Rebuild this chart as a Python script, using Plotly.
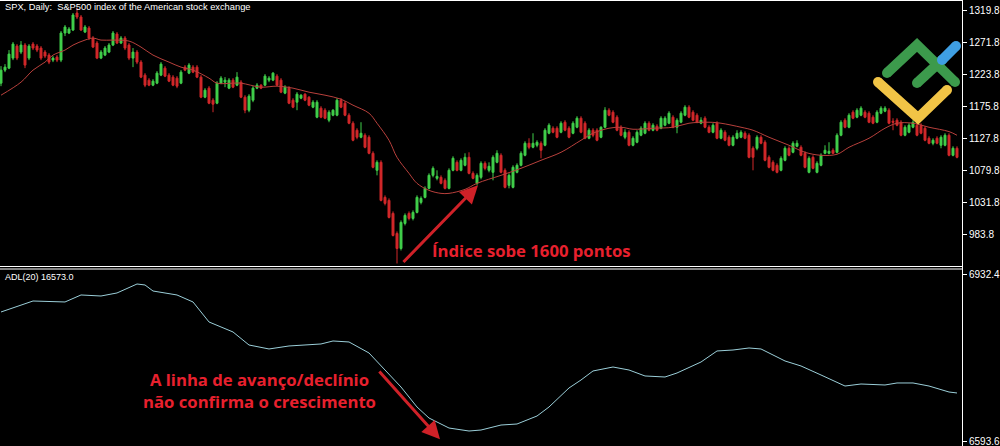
import plotly.graph_objects as go

# ---------------- data ----------------
opens = [
1210.5, 1230, 1233, 1248, 1266, 1257, 1267.5, 1248, 1269, 1266,
1263, 1257, 1252.5, 1245, 1249.5, 1245, 1285.5, 1285.5, 1290, 1315.5,
1309.5, 1287, 1293, 1278, 1270.5, 1248, 1252.5, 1257, 1267.5, 1284,
1270.5, 1278, 1267.5, 1248, 1257, 1242, 1222.5, 1215, 1207.5, 1210.5,
1222.5, 1233, 1222.5, 1219.5, 1218, 1210.5, 1234.5, 1225.5, 1234.5, 1234.5,
1219.5, 1189.5, 1203, 1185, 1180.5, 1210.5, 1212, 1203, 1215, 1207.5,
1212, 1189.5, 1170, 1185, 1203, 1207.5, 1207.5, 1215, 1215, 1221,
1215, 1195.5, 1203, 1185, 1182, 1188, 1194, 1189.5, 1174.5, 1159.5,
1173, 1170, 1155, 1162.5, 1162.5, 1185, 1180.5, 1162.5, 1150.5, 1140,
1129.5, 1132.5, 1129.5, 1105.5, 1080, 1092, 1039.5, 1035, 1015.5, 985.5,
963, 1000.5, 1015.5, 1008, 1017, 1032, 1039.5, 1053, 1072.5, 1068,
1069.5, 1065, 1053, 1080, 1092, 1080, 1087.5, 1099.5, 1075.5, 1060.5,
1069.5, 1090.5, 1080, 1077, 1092, 1102.5, 1080, 1057.5, 1054.5, 1077,
1087.5, 1102.5, 1120.5, 1114.5, 1117.5, 1120.5, 1117.5, 1135.5, 1143, 1143,
1137, 1152, 1143, 1135.5, 1144.5, 1158, 1150.5, 1128, 1140, 1140,
1129.5, 1144.5, 1170, 1167, 1159.5, 1144.5, 1129.5, 1137, 1117.5, 1122,
1132.5, 1135.5, 1150.5, 1140, 1146, 1143, 1147.5, 1150.5, 1159.5, 1144.5,
1152, 1162.5, 1174.5, 1167, 1162.5, 1150.5, 1158, 1144.5, 1137, 1150.5,
1128, 1137, 1129.5, 1117.5, 1128, 1129.5, 1135.5, 1132.5, 1113, 1113,
1129.5, 1122, 1099.5, 1092, 1087.5, 1080, 1095, 1113, 1107, 1116,
1114.5, 1105.5, 1077, 1099.5, 1077, 1087.5, 1105.5, 1105.5, 1110, 1107,
1132.5, 1155, 1144.5, 1167, 1159.5, 1162.5, 1167, 1165.5, 1159.5, 1152,
1165.5, 1168.5, 1170, 1153.5, 1155, 1152, 1132.5, 1137, 1144.5, 1147.5,
1147.5, 1143, 1128, 1120.5, 1128, 1117.5, 1117.5, 1132.5, 1102.5, 1113,
]

closes = [
1230, 1234.5, 1254, 1269, 1248, 1267.5, 1237.5, 1266, 1263, 1260,
1248, 1251, 1242, 1248, 1245, 1285.5, 1294.5, 1291.5, 1312.5, 1309.5,
1290, 1294.5, 1278, 1264.5, 1248, 1257, 1263, 1267.5, 1285.5, 1270.5,
1278, 1263, 1248, 1257, 1242, 1219.5, 1207.5, 1207.5, 1213.5, 1225.5,
1239, 1221, 1213.5, 1207.5, 1206, 1227, 1230, 1237.5, 1227, 1219.5,
1189.5, 1200, 1180.5, 1179, 1210.5, 1218, 1215, 1215, 1204.5, 1219.5,
1189.5, 1170, 1191, 1203, 1207.5, 1203, 1221, 1218, 1225.5, 1207.5,
1197, 1204.5, 1180.5, 1174.5, 1194, 1192.5, 1185, 1177.5, 1182, 1182,
1159.5, 1158, 1167, 1170, 1185, 1174.5, 1162.5, 1150.5, 1125, 1129.5,
1135.5, 1114.5, 1105.5, 1084.5, 1092, 1035, 1030.5, 1009.5, 982.5, 963,
1002, 1012.5, 1008, 1017, 1039.5, 1038, 1053, 1072.5, 1083, 1071,
1060.5, 1053, 1080, 1098, 1080, 1095, 1099.5, 1075.5, 1068, 1072.5,
1090.5, 1083, 1086, 1099.5, 1105.5, 1077, 1054.5, 1072.5, 1084.5, 1087.5,
1105.5, 1120.5, 1114.5, 1120.5, 1122, 1110, 1140, 1147.5, 1137, 1129.5,
1150.5, 1140, 1129.5, 1150.5, 1158, 1137, 1128, 1140, 1132.5, 1125,
1144.5, 1170, 1162.5, 1152, 1140, 1132.5, 1137, 1117.5, 1128, 1137,
1143, 1150.5, 1140, 1147.5, 1140, 1158, 1158, 1165.5, 1144.5, 1155,
1165.5, 1174.5, 1159.5, 1155, 1152, 1155, 1144.5, 1137, 1147.5, 1128,
1140, 1125, 1117.5, 1129.5, 1135.5, 1137, 1128, 1099.5, 1099.5, 1129.5,
1120.5, 1095, 1084.5, 1080, 1077, 1098, 1113, 1102.5, 1120.5, 1120.5,
1102.5, 1084.5, 1098, 1083, 1090.5, 1102.5, 1110, 1108.5, 1105.5, 1132.5,
1152, 1144.5, 1162.5, 1158, 1170, 1173, 1159.5, 1152, 1150.5, 1167,
1173, 1173, 1150.5, 1152, 1147.5, 1132.5, 1144.5, 1147.5, 1152, 1132.5,
1135.5, 1125, 1120.5, 1125, 1120.5, 1129.5, 1132.5, 1102.5, 1113, 1099.5,
]

highs = [
1236, 1239, 1260, 1272, 1269, 1273.5, 1270.5, 1269, 1272, 1269,
1266, 1260, 1255.5, 1251, 1252.5, 1288.5, 1297.5, 1294.5, 1315.5, 1323,
1312.5, 1297.5, 1296, 1281, 1273.5, 1260, 1266, 1270.5, 1288.5, 1287,
1281, 1281, 1270.5, 1263, 1260, 1245, 1225.5, 1218, 1216.5, 1228.5,
1242, 1236, 1225.5, 1222.5, 1221, 1230, 1237.5, 1240.5, 1237.5, 1237.5,
1222.5, 1203, 1206, 1188, 1213.5, 1221, 1219.5, 1218, 1218, 1227,
1215, 1192.5, 1194, 1206, 1210.5, 1209, 1224, 1221, 1227, 1224,
1218, 1207.5, 1206, 1188, 1197, 1194, 1195.5, 1191, 1185, 1185,
1176, 1173, 1170, 1171.5, 1188, 1188, 1183.5, 1165.5, 1153.5, 1143,
1152, 1135.5, 1132.5, 1108.5, 1095, 1095, 1042.5, 1038, 1018.5, 988.5,
1005, 1015.5, 1018.5, 1020, 1042.5, 1041, 1056, 1075.5, 1086, 1080,
1072.5, 1068, 1083, 1101, 1095, 1098, 1105.5, 1107, 1078.5, 1075.5,
1093.5, 1093.5, 1092, 1102.5, 1110, 1105.5, 1083, 1075.5, 1087.5, 1090.5,
1108.5, 1123.5, 1128, 1135.5, 1125, 1123.5, 1143, 1150.5, 1146, 1146,
1153.5, 1155, 1146, 1153.5, 1161, 1161, 1153.5, 1143, 1143, 1143,
1146, 1174.5, 1173, 1170, 1162.5, 1147.5, 1141.5, 1140, 1131, 1140,
1146, 1153.5, 1153.5, 1150.5, 1149, 1161, 1161, 1168.5, 1162.5, 1158,
1168.5, 1177.5, 1177.5, 1170, 1165.5, 1159.5, 1161, 1147.5, 1150.5, 1153.5,
1143, 1140, 1132.5, 1132.5, 1140, 1140, 1138.5, 1135.5, 1116, 1132.5,
1132.5, 1125, 1102.5, 1095, 1090.5, 1101, 1116, 1116, 1123.5, 1125,
1117.5, 1108.5, 1101, 1102.5, 1093.5, 1105.5, 1117.5, 1122, 1113, 1135.5,
1155, 1158, 1165.5, 1170, 1173, 1176, 1170, 1168.5, 1162.5, 1170,
1176, 1176, 1173, 1158, 1158, 1155, 1147.5, 1150.5, 1155, 1150.5,
1150.5, 1146, 1131, 1128, 1131, 1132.5, 1135.5, 1135.5, 1116, 1116,
]

lows = [
1206, 1227, 1231.5, 1245, 1245, 1254, 1233, 1245, 1260, 1257,
1245, 1248, 1239, 1242, 1242, 1242, 1281, 1284, 1288.5, 1306.5,
1288.5, 1285.5, 1275, 1263, 1246.5, 1246.5, 1251, 1255.5, 1266, 1269,
1269, 1260, 1245, 1234.5, 1239, 1218, 1204.5, 1206, 1206, 1209,
1221, 1219.5, 1212, 1206, 1203, 1209, 1228.5, 1224, 1225.5, 1218,
1188, 1188, 1179, 1167, 1179, 1209, 1204.5, 1201.5, 1203, 1206,
1188, 1165.5, 1167, 1182, 1201.5, 1201.5, 1206, 1212, 1213.5, 1206,
1195.5, 1194, 1179, 1173, 1170, 1186.5, 1183.5, 1176, 1173, 1158,
1158, 1156.5, 1152, 1161, 1161, 1173, 1161, 1149, 1123.5, 1126.5,
1128, 1113, 1104, 1083, 1072.5, 1033.5, 1027.5, 1008, 981, 940.5,
960, 997.5, 1005, 1005, 1015.5, 1029, 1038, 1051.5, 1069.5, 1065,
1059, 1051.5, 1051.5, 1078.5, 1078.5, 1078.5, 1086, 1074, 1066.5, 1057.5,
1066.5, 1080, 1077, 1065, 1090.5, 1075.5, 1053, 1053, 1053, 1075.5,
1086, 1101, 1111.5, 1113, 1114.5, 1098, 1116, 1134, 1135.5, 1128,
1135.5, 1138.5, 1128, 1134, 1143, 1135.5, 1126.5, 1126.5, 1129.5, 1123.5,
1128, 1143, 1161, 1150.5, 1138.5, 1131, 1126.5, 1116, 1116, 1120.5,
1131, 1134, 1138.5, 1138.5, 1138.5, 1141.5, 1146, 1149, 1143, 1135.5,
1150.5, 1161, 1158, 1153.5, 1150.5, 1149, 1143, 1135.5, 1135.5, 1126.5,
1126.5, 1123.5, 1116, 1116, 1126.5, 1128, 1126.5, 1098, 1080, 1110,
1119, 1093.5, 1083, 1078.5, 1075.5, 1078.5, 1093.5, 1101, 1105.5, 1114.5,
1101, 1083, 1075.5, 1081.5, 1075.5, 1086, 1104, 1104, 1104, 1105.5,
1131, 1143, 1143, 1156.5, 1158, 1161, 1158, 1150.5, 1149, 1150.5,
1164, 1167, 1149, 1140, 1146, 1131, 1131, 1135.5, 1143, 1131,
1134, 1123.5, 1119, 1117.5, 1119, 1113, 1116, 1101, 1101, 1098,
]

bars = list(range(len(closes)))

# red moving average of price (read at sample bars)
ma_idx = [0, 5, 8, 11, 13, 16, 18, 21, 23, 25, 28, 32, 35, 38, 42, 45, 48, 52, 54, 58,
          60, 65, 69, 73, 77, 81, 85, 88, 92, 94, 97, 99, 102, 104, 107, 110, 112, 116, 119, 125,
          130, 135, 140, 145, 148, 152, 155, 158, 163, 168, 172, 177, 180, 185, 188, 192, 197, 201, 205, 209,
          212, 217, 221, 224, 228, 232, 237, 239]
ma_vals = [1192.5, 1212, 1230, 1242, 1252.5, 1260, 1267.5, 1275, 1278, 1275,
           1275, 1273.5, 1264.5, 1252.5, 1242, 1234.5, 1230, 1218, 1210.5, 1210.5,
           1210.5, 1204.5, 1206, 1203, 1197, 1192.5, 1186.5, 1177.5, 1165.5, 1150.5,
           1125, 1099.5, 1075.5, 1060.5, 1050, 1045.5, 1045.5, 1051.5, 1060.5, 1072.5,
           1083, 1095, 1107, 1125, 1135.5, 1143, 1144.5, 1141.5, 1143, 1144.5,
           1150.5, 1152, 1150.5, 1144.5, 1140, 1129.5, 1117.5, 1107, 1102.5, 1104,
           1114.5, 1128, 1143, 1150.5, 1150.5, 1144.5, 1138, 1132.5]

# advance/decline line (lower panel)
adl_idx = [0, 3, 8, 16, 20, 25, 29, 34, 36, 38, 44, 48, 52, 58, 62, 67, 72, 80, 83, 87,
           92, 96, 100, 104, 107, 112, 117, 120, 125, 129, 134, 137, 142, 145, 148, 153, 157, 161, 166, 169,
           175, 179, 183, 187, 190, 196, 200, 205, 211, 215, 221, 224, 228, 232, 237, 239]
adl_vals = [6856.9, 6865.0, 6879.3, 6877.3, 6891.6, 6889.5, 6895.7, 6914.0, 6912.0, 6899.7,
            6891.6, 6877.3, 6836.5, 6816.1, 6789.5, 6781.4, 6787.5, 6791.6, 6797.7, 6795.7,
            6773.2, 6738.5, 6703.8, 6663.0, 6640.5, 6620.1, 6614.0, 6616.0, 6626.2, 6628.3,
            6644.6, 6663.0, 6701.8, 6718.1, 6736.5, 6744.6, 6738.5, 6726.3, 6724.2, 6732.4,
            6754.8, 6777.3, 6779.3, 6783.4, 6781.4, 6756.9, 6746.7, 6728.3, 6705.8, 6709.9,
            6707.9, 6712.0, 6712.0, 6705.8, 6693.6, 6691.6]

price_ticks = [1319.8, 1271.8, 1223.8, 1175.8, 1127.8, 1079.8, 1031.8, 983.8]
adl_ticks = [6932.4, 6593.6]

title_text = "SPX, Daily:  S&P500 index of the American stock exchange"
adl_label = "ADL(20) 16573.0"
note_top = "Índice sobe 1600 pontos"
note_bottom_1 = "A linha de avanço/declínio"
note_bottom_2 = "não confirma o crescimento"

# ---------------- styling ----------------
W, H = 1000, 446
PW = 962  # plot width in px
GREEN = "#41cf4b"
RED = "#d2282a"
MA_COLOR = "#b8403c"
ADL_COLOR = "#9bcfd9"
NOTE_RED = "#e8202e"
ARROW_RED = "#cf2128"
AXIS_FONT = dict(family="Liberation Sans, Arial, sans-serif", size=10, color="#ffffff")
TITLE_FONT = dict(family="Liberation Sans, Arial, sans-serif", size=9.3, color="#ffffff")
LABEL_FONT = dict(family="Liberation Sans, Arial, sans-serif", size=9, color="#ffffff")


def px(x):
    return x / PW


def py(y):
    return 1 - y / H


fig = go.Figure()

fig.add_trace(go.Candlestick(
    x=bars, open=opens, high=highs, low=lows, close=closes,
    increasing=dict(line=dict(color=GREEN, width=1), fillcolor=GREEN),
    decreasing=dict(line=dict(color=RED, width=1), fillcolor=RED),
    whiskerwidth=0, showlegend=False, hoverinfo="skip",
    xaxis="x", yaxis="y",
))

fig.add_trace(go.Scatter(
    x=ma_idx, y=ma_vals, mode="lines", line=dict(color=MA_COLOR, width=1, shape="spline"),
    showlegend=False, hoverinfo="skip", xaxis="x", yaxis="y",
))

fig.add_trace(go.Scatter(
    x=adl_idx, y=adl_vals, mode="lines", line=dict(color=ADL_COLOR, width=1),
    showlegend=False, hoverinfo="skip", xaxis="x2", yaxis="y2",
))

xr = [-0.25, 240.25]
top_dom = [1 - 266.5 / H, 1]
bot_dom = [0, 1 - 269 / H]

fig.update_layout(
    width=W, height=H,
    margin=dict(l=0, r=W - PW, t=0, b=0, pad=0),
    paper_bgcolor="#000000", plot_bgcolor="#000000",
    xaxis=dict(domain=[0, 1], range=xr, visible=False, anchor="y",
               rangeslider=dict(visible=False), fixedrange=True),
    xaxis2=dict(domain=[0, 1], range=xr, visible=False, anchor="y2", matches="x"),
    yaxis=dict(domain=top_dom, range=[936, 1335], side="right",
               tickvals=price_ticks, ticktext=[f"{v:.1f}" for v in price_ticks],
               ticks="outside", ticklen=4, tickcolor="#ffffff", tickfont=AXIS_FONT,
               ticklabeloverflow="allow",
               showgrid=False, zeroline=False, showline=False),
    yaxis2=dict(domain=bot_dom, range=[6583.4, 6944.6], side="right",
                tickvals=adl_ticks, ticktext=[f"{v:.1f}" for v in adl_ticks],
                ticks="outside", ticklen=4, tickcolor="#ffffff", tickfont=AXIS_FONT,
                ticklabeloverflow="allow",
                showgrid=False, zeroline=False, showline=False),
    showlegend=False,
)

# frame lines
frame = [
    (0, 0.5, 963, 0.5),
    (962.5, 0, 962.5, H),
    (0, 266.5, 963, 266.5),
    (0, 269, 963, 269),
]
for x0, y0, x1, y1 in frame:
    fig.add_shape(type="line", xref="paper", yref="paper",
                  x0=px(x0), y0=py(y0), x1=px(x1), y1=py(y1),
                  line=dict(color="#ffffff", width=1), layer="above")

# logo (decoration)
LOGO_W = 10
logo_parts = [
    ("#3c9a4c", [(887, 73), (917, 45), (955, 82)]),
    ("#3c9a4c", [(917, 83), (942, 60)]),
    ("#3f9fe3", [(942, 60), (956, 46)]),
    ("#f1c446", [(878, 82), (918, 118), (947, 90)]),
]
for color, pts in logo_parts:
    path = "M " + " L ".join(f"{px(a)},{py(b)}" for a, b in pts)
    fig.add_shape(type="path", xref="paper", yref="paper", path=path,
                  line=dict(color=color, width=LOGO_W), layer="above")
    r = LOGO_W / 2
    for a, b in (pts[0], pts[-1]):
        fig.add_shape(type="circle", xref="paper", yref="paper",
                      x0=px(a - r), x1=px(a + r), y0=py(b + r), y1=py(b - r),
                      fillcolor=color, line=dict(width=0), layer="above")

# texts
fig.add_annotation(xref="paper", yref="paper", x=px(3), y=py(7), xanchor="left", yanchor="middle",
                   text=title_text, showarrow=False, font=TITLE_FONT)
fig.add_annotation(xref="paper", yref="paper", x=px(3), y=py(277), xanchor="left", yanchor="middle",
                   text=adl_label, showarrow=False, font=LABEL_FONT)

NOTE_FONT = dict(family="Open Sans, sans-serif", size=16.7, color=NOTE_RED)
fig.add_annotation(xref="paper", yref="paper", x=px(531), y=py(251), xanchor="center", yanchor="middle",
                   text=f"<b>{note_top}</b>", showarrow=False, font=NOTE_FONT)
fig.add_annotation(xref="paper", yref="paper", x=px(259), y=py(390), xanchor="center", yanchor="middle",
                   align="center", text=f"<b>{note_bottom_1}</b><br><b>{note_bottom_2}</b>",
                   showarrow=False, font=NOTE_FONT)

# arrows
fig.add_annotation(x=119.25, y=1057.5, xref="x", yref="y", ax=100.25, ay=940.5, axref="x", ayref="y",
                   text="", showarrow=True, arrowhead=2, arrowsize=1.2, arrowwidth=3, arrowcolor=ARROW_RED)
fig.add_annotation(x=109.75, y=6597, xref="x2", yref="y2", ax=94.25, ay=6738.5, axref="x2", ayref="y2",
                   text="", showarrow=True, arrowhead=2, arrowsize=1.2, arrowwidth=3, arrowcolor=ARROW_RED)

fig.write_html(
    "out.html",
    config={"displayModeBar": False},
    post_script="document.body.style.margin='0';document.body.style.overflow='hidden';",
)
